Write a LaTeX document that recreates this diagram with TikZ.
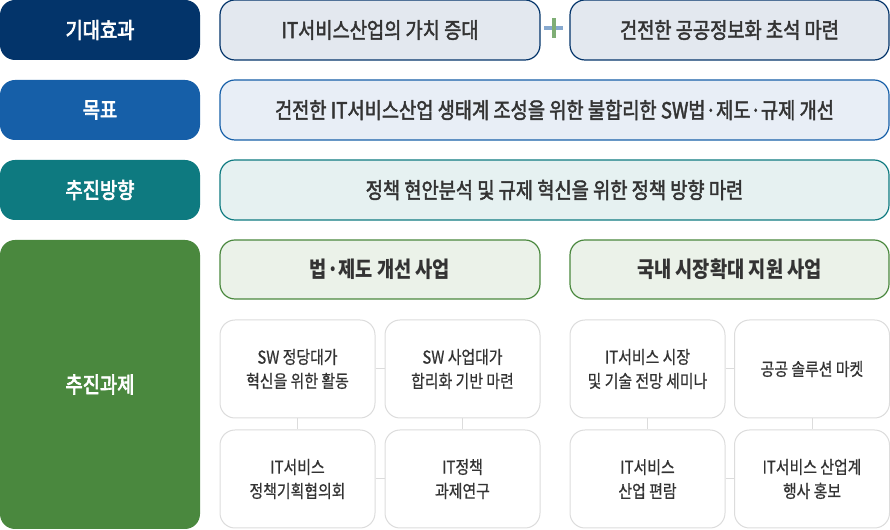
\documentclass[tikz,border=0pt]{standalone}
\usepackage{fontspec}
\setmainfont{Noto Sans CJK KR}
\newfontfamily\medf[FakeStretch=0.85,RawFeature={embolden=2}]{Noto Sans CJK KR}
\newfontfamily\labf[FakeStretch=0.85,RawFeature={embolden=3}]{Noto Sans CJK KR}
\newfontfamily\regf[FakeStretch=0.84,RawFeature={embolden=0.6}]{Noto Sans CJK KR}
\newfontfamily\hdf[FakeStretch=0.85]{Noto Sans CJK KR}
\definecolor{cNavy}{HTML}{03346A}
\definecolor{cBlue}{HTML}{165FA8}
\definecolor{cTeal}{HTML}{0E7A80}
\definecolor{cGreen}{HTML}{4A883E}
\definecolor{fNavy}{HTML}{E3E8EF}
\definecolor{fBlue}{HTML}{E8EEF6}
\definecolor{fTeal}{HTML}{E6F1F1}
\definecolor{fGreen}{HTML}{EBF2E9}
\definecolor{cText}{HTML}{333333}
\definecolor{cGray}{HTML}{DCDCDC}
\definecolor{plusH}{HTML}{87A9CF}
\definecolor{plusV}{HTML}{7FAE75}
\begin{document}
\begin{tikzpicture}[x=0.75pt,y=-0.75pt,
  base/.style={rounded corners=11.25pt, inner sep=0pt, align=center},
  leftbox/.style={base, text=white, font=\labf\fontsize{16.5}{18}\selectfont, minimum width=150pt},
  rowbox/.style={base, line width=0.9pt, text=cText, font=\medf\fontsize{16.5}{18}\selectfont, minimum height=45pt},
  headbox/.style={base, line width=0.9pt, draw=cGreen, fill=fGreen, text=cText, font=\hdf\bfseries\fontsize{16.5}{18}\selectfont, minimum width=240pt, minimum height=44.25pt},
  smallbox/.style={base, line width=0.75pt, draw=cGray, fill=white, text=cText, font=\regf\fontsize{13.3}{18}\selectfont, minimum width=116.25pt, minimum height=73.5pt},
  conn/.style={draw=cGray, line width=0.75pt}
]
\useasboundingbox (0,0) rectangle (890,530);
% left column
\node[leftbox, fill=cNavy, minimum height=45pt] (L1) at (100,30) {기대효과};
\node[leftbox, fill=cBlue, minimum height=45pt] (L2) at (100,110) {목표};
\node[leftbox, fill=cTeal, minimum height=45pt] (L3) at (100,190) {추진방향};
\node[leftbox, fill=cGreen, minimum height=216.75pt] (L4) at (100,384.5) {추진과제};
% row 1
\node[rowbox, draw=cNavy, fill=fNavy, minimum width=240pt] (R1a) at (380,30) {IT서비스산업의 가치 증대};
\node[rowbox, draw=cNavy, fill=fNavy, minimum width=239.25pt] (R1b) at (729.5,30) {건전한 공공정보화 초석 마련};
\fill[plusH] (544,26) rectangle (563,30.5);
\fill[plusV] (551.5,18) rectangle (555.5,38);
% row 2
\node[rowbox, draw=cBlue, fill=fBlue, minimum width=501.75pt] (R2) at (554.5,110) {건전한 IT서비스산업 생태계 조성을 위한 불합리한 SW법·제도·규제 개선};
% row 3
\node[rowbox, draw=cTeal, fill=fTeal, minimum width=501.75pt] (R3) at (554.5,190) {정책 현안분석 및 규제 혁신을 위한 정책 방향 마련};
% headers
\node[headbox] (G1) at (380,269.5) {법·제도 개선 사업};
\node[headbox, minimum width=239.25pt] (G2) at (729.5,269.5) {국내 시장확대 지원 사업};
% small boxes
\node[smallbox] (S1) at (297.5,369) {SW 정당대가\\혁신을 위한 활동};
\node[smallbox] (S2) at (462.5,369) {SW 사업대가\\합리화 기반 마련};
\node[smallbox] (S3) at (297.5,479) {IT서비스\\정책기획협의회};
\node[smallbox] (S4) at (462.5,479) {IT정책\\과제연구};
\node[smallbox] (S5) at (647.5,369) {IT서비스 시장\\및 기술 전망 세미나};
\node[smallbox] (S6) at (812,369) {공공 솔루션 마켓};
\node[smallbox] (S7) at (647.5,479) {IT서비스\\산업 편람};
\node[smallbox] (S8) at (812,479) {IT서비스 산업계\\행사 홍보};
% connectors
\draw[conn] (S1.east) -- (S2.west);
\draw[conn] (S3.east) -- (S4.west);
\draw[conn] (S1.south) -- (S3.north);
\draw[conn] (S2.south) -- (S4.north);
\draw[conn] (S5.east) -- (S6.west);
\draw[conn] (S7.east) -- (S8.west);
\draw[conn] (S5.south) -- (S7.north);
\draw[conn] (S6.south) -- (S8.north);
\end{tikzpicture}
\end{document}
